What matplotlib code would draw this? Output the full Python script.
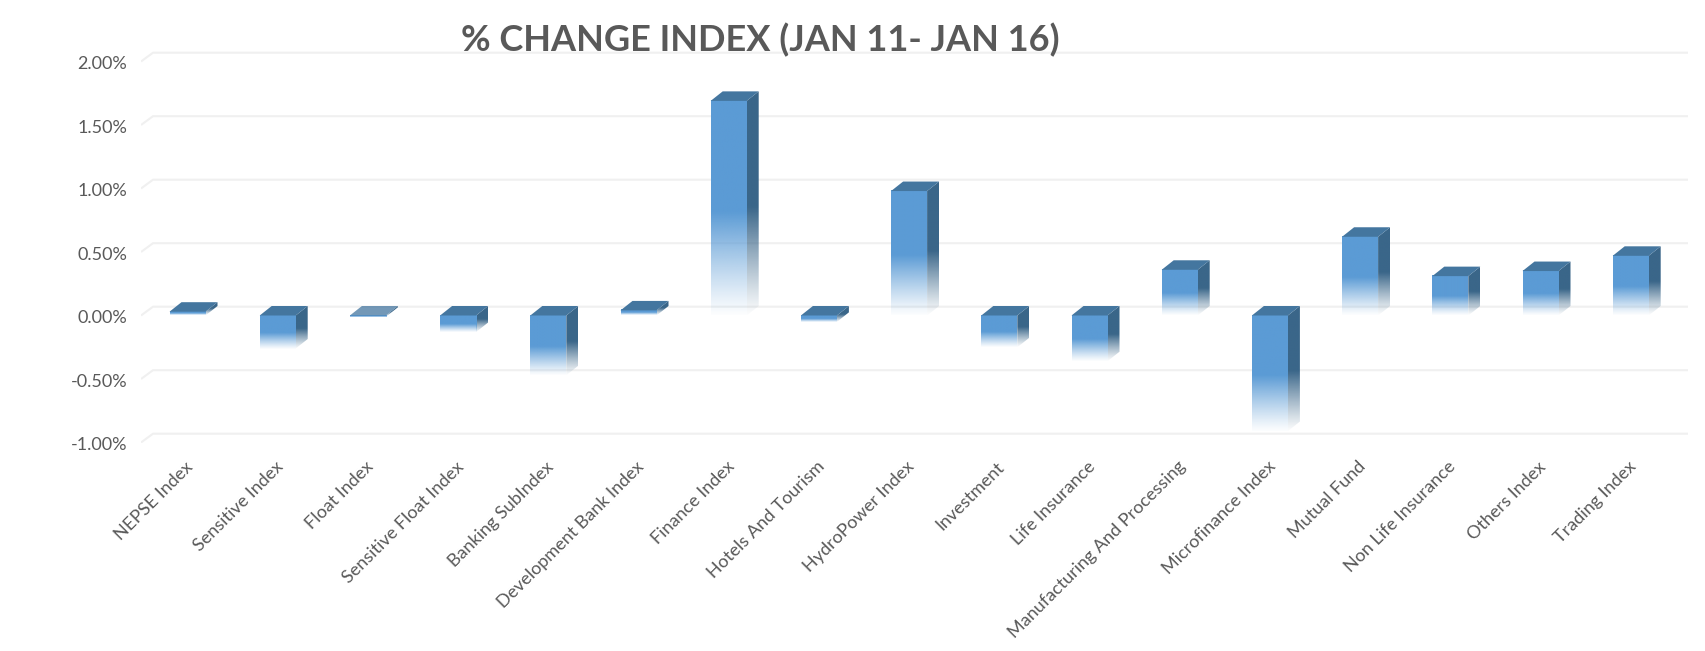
import numpy as np
import matplotlib
matplotlib.use("Agg")
import matplotlib.pyplot as plt
from matplotlib.patches import Polygon
from matplotlib.colors import to_rgb
from matplotlib.transforms import ScaledTranslation

categories = ["NEPSE Index", "Sensitive Index", "Float Index", "Sensitive Float Index",
              "Banking SubIndex", "Development Bank Index", "Finance Index", "Hotels And Tourism",
              "HydroPower Index", "Investment", "Life Insurance", "Manufacturing And Processing",
              "Microfinance Index", "Mutual Fund", "Non Life Insurance", "Others Index", "Trading Index"]
values = [0.03, -0.26, -0.01, -0.13, -0.47, 0.04, 1.69, -0.05, 0.98, -0.25, -0.36, 0.36,
          -0.91, 0.62, 0.31, 0.35, 0.47]
yticks = [-1.0, -0.5, 0.0, 0.5, 1.0, 1.5, 2.0]
title = "% CHANGE INDEX (JAN 11- JAN 16)"

W, H = 1705, 651
plt.rcParams['font.family'] = ['Lato', 'DejaVu Sans']
GREY = "#595959"
fig = plt.figure(figsize=(W / 100, H / 100), dpi=100, facecolor="white")

px_left, px_right, px_top, px_bottom = 141, 1688, 40, 442.5
ax = fig.add_axes([px_left / W, 1 - px_bottom / H, (px_right - px_left) / W, (px_bottom - px_top) / H])
pitch = 90.2        # px per category
unit = 127.0        # px per 1 %
x0 = -(187.5 - px_left) / pitch
x1 = x0 + (px_right - px_left) / pitch
y1 = -1 + (px_bottom - px_top) / unit
dx = 12 / pitch     # depth offset
dy = 9.5 / unit
grid_dy = 8.8 / unit
bw = 36 / pitch


def fade(color, n=200, solid=0.52, floor=0.03):
    rgb = to_rgb(color)
    t = np.linspace(0, 1, n)      # 0 = top, 1 = bottom
    a = np.where(t < solid, 1.0, 1 - (t - solid) / (1 - solid) * (1 - floor))
    a = np.where(t < solid, 1.0, a ** 1.15)
    img = np.zeros((n, 1, 4))
    img[..., :3] = rgb
    img[..., 3] = a[:, None]
    return img


# gridlines in the back plane with the little diagonal at the left
for t in yticks:
    ax.plot([x0, x0 + dx, x1], [t, t + grid_dy, t + grid_dy], color="#f0f0f0", lw=1.5, zorder=1,
            solid_capstyle="butt", solid_joinstyle="miter")

for i, v in enumerate(values):
    top, bot = max(v, 0), min(v, 0)
    l, r = i - bw / 2, i + bw / 2
    # side face
    side = Polygon([(r, bot), (r + dx, bot + dy), (r + dx, top + dy), (r, top)], transform=ax.transData,
                   fc="none", ec="none")
    ax.add_patch(side)
    im = ax.imshow(fade("#3a6689"), extent=(r, r + dx, bot, top + dy), aspect="auto", zorder=3,
                   interpolation="bilinear")
    im.set_clip_path(side)
    # front face
    ax.imshow(fade("#5b9bd5"), extent=(l, r, bot, top), aspect="auto", zorder=4,
              interpolation="bilinear")
    # top face
    ax.add_patch(Polygon([(l, top), (r, top), (r + dx, top + dy), (l + dx, top + dy)],
                         fc="#44769f", ec="none", zorder=5, alpha=0.75 if abs(v) < 0.015 else 1))

ax.set_xlim(x0, x1)
ax.set_ylim(-1, y1)
for s in ax.spines.values():
    s.set_visible(False)
ax.patch.set_alpha(0)

ax.set_yticks(yticks)
ax.set_yticklabels([f"{t:.2f}%" for t in yticks], color=GREY, fontsize=13)
ax.tick_params(axis="y", length=0, pad=10)
ax.set_xticks(range(len(categories)))
ax.set_xticklabels(categories, rotation=45, ha="right", va="top", rotation_mode="anchor",
                   color=GREY, fontsize=13)
ax.tick_params(axis="x", length=0, pad=12)

# nudge the labels (points) to sit where the reference has them
shift_x = ScaledTranslation(-2.0 / 72, 0.5 / 72, fig.dpi_scale_trans)
for lab in ax.get_xticklabels():
    lab.set_transform(lab.get_transform() + shift_x)
shift_y = ScaledTranslation(0, -0.8 / 72, fig.dpi_scale_trans)
for lab in ax.get_yticklabels():
    lab.set_transform(lab.get_transform() + shift_y)

fig.text(760 / W, 1 - 40 / H, title, ha="center", va="center", color=GREY, fontsize=26, fontweight="bold")
fig.savefig("out.png", dpi=100)
